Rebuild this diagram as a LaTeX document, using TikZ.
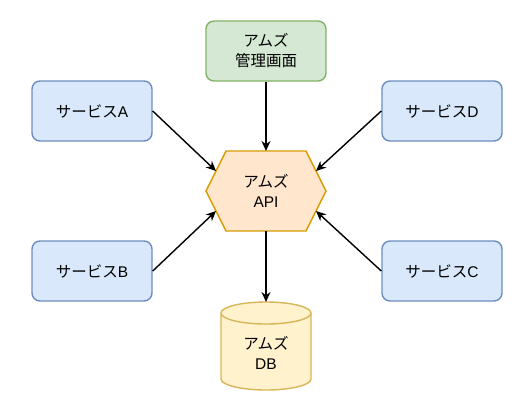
\documentclass[tikz,border=0pt]{standalone}
\usepackage{fontspec}
\setmainfont{Liberation Sans}
\newfontfamily\cjk{Noto Sans CJK JP}
\usetikzlibrary{arrows.meta,shapes.geometric}
\definecolor{bluefill}{HTML}{DAE8FC}
\definecolor{bluedraw}{HTML}{6C8EBF}
\definecolor{greenfill}{HTML}{D5E8D4}
\definecolor{greendraw}{HTML}{82B366}
\definecolor{orangefill}{HTML}{FFE6CC}
\definecolor{orangedraw}{HTML}{D79B00}
\definecolor{yellowfill}{HTML}{FFF2CC}
\definecolor{yellowdraw}{HTML}{D6B656}
\tikzset{
  box/.style={rounded corners=8pt, line width=1.4pt, minimum width=120pt, minimum height=60pt, inner sep=0pt, align=center, font=\fontsize{15.5}{20}\selectfont},
  svc/.style={box, fill=bluefill, draw=bluedraw},
  adm/.style={box, fill=greenfill, draw=greendraw},
  conn/.style={line width=1.4pt, -{Stealth[length=10pt,width=9pt]}},
  lbl/.style={align=center, font=\fontsize{15.5}{20}\selectfont, inner sep=0pt}
}
\begin{document}
\begin{tikzpicture}[x=1pt,y=-1pt]
\useasboundingbox (0,0) rectangle (532,412);
\node[adm] (adm) at (266,51) {{\cjk アムズ}\\{\cjk 管理画面}};
\node[svc] (sa) at (92,111) {{\cjk サービス}A};
\node[svc] (sd) at (442,111) {{\cjk サービス}D};
\node[svc] (sb) at (92,271) {{\cjk サービス}B};
\node[svc] (sc) at (442,271) {{\cjk サービス}C};
% hexagon
\draw[fill=orangefill, draw=orangedraw, line width=1.4pt] (226,151) -- (306,151) -- (326,191) -- (306,231) -- (226,231) -- (206,191) -- cycle;
\node[lbl] (api) at (266,191) {{\cjk アムズ}\\API};
\coordinate (hexT) at (266,151);
\coordinate (hexB) at (266,231);
\coordinate (hexUL) at (216,171);
\coordinate (hexUR) at (316,171);
\coordinate (hexLL) at (216,211);
\coordinate (hexLR) at (316,211);
% cylinder
\draw[fill=yellowfill, draw=yellowdraw, line width=1.4pt] (221,313) arc[start angle=180, end angle=360, x radius=45, y radius=11] -- (311,313) -- (311,379) arc[start angle=0, end angle=180, x radius=45, y radius=11] -- cycle;
\draw[draw=yellowdraw, line width=1.4pt] (221,313) arc[start angle=180, end angle=0, x radius=45, y radius=11];
\node[lbl] (db) at (266,353) {{\cjk アムズ}\\DB};
\coordinate (cylT) at (266,302);
\draw[conn] (adm.south) -- (hexT);
\draw[conn] (sa.east) -- (hexUL);
\draw[conn] (sd.west) -- (hexUR);
\draw[conn] (sb.east) -- (hexLL);
\draw[conn] (sc.west) -- (hexLR);
\draw[conn] (hexB) -- (cylT);
\end{tikzpicture}
\end{document}
